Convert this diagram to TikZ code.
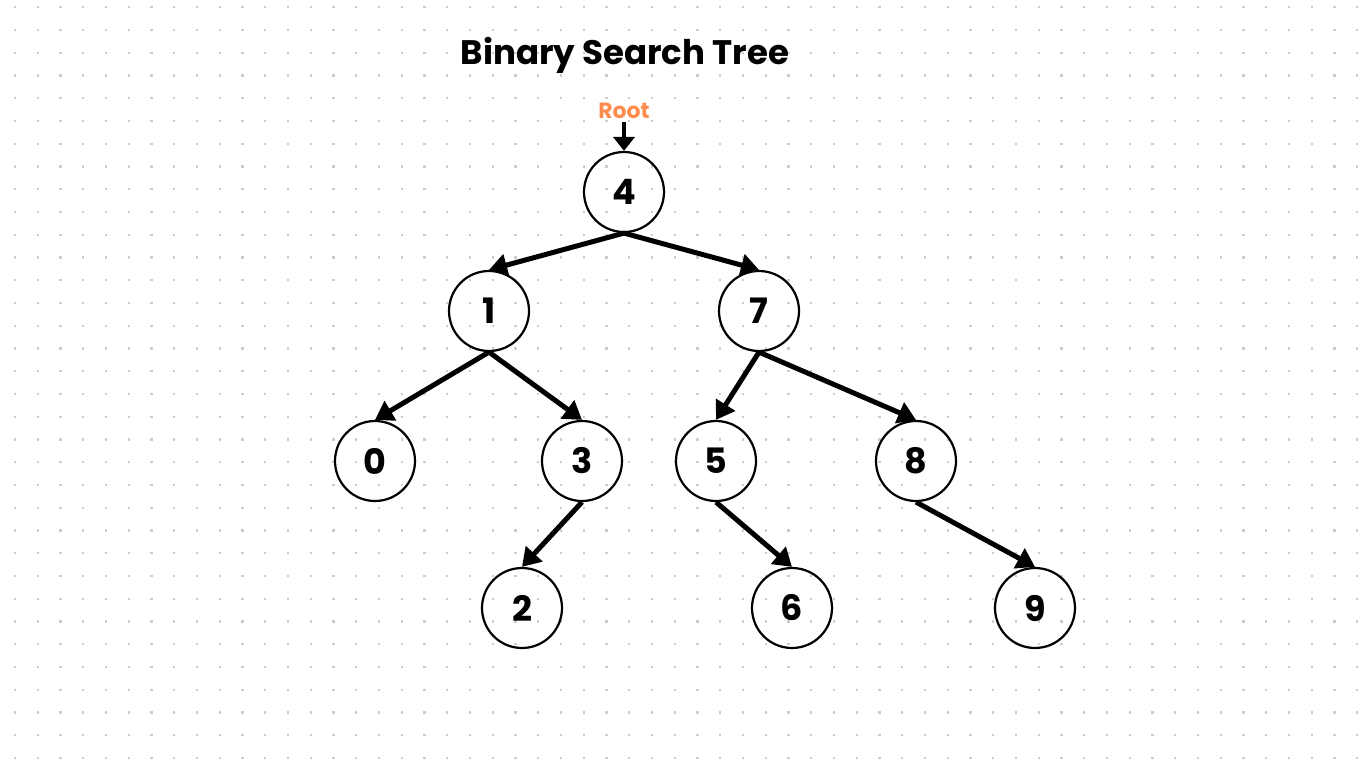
\documentclass[tikz,border=0pt]{standalone}
\usepackage{fontspec}
\setmainfont{Poppins}
\usetikzlibrary{arrows.meta}
\definecolor{dotc}{HTML}{C9CDD9}
\definecolor{rootc}{HTML}{FF8C4F}
\begin{document}
\begin{tikzpicture}[x=1pt,y=-1pt,
  bst/.style={circle,draw,line width=2.2pt,minimum size=80pt,inner sep=0pt,font=\fontsize{35}{38}\selectfont\bfseries},
  edge/.style={line width=5pt,-{Triangle[length=18pt,width=22pt]}},
  dotmark/.style={fill=dotc}]
\useasboundingbox (0,0) rectangle (1366,768);
\fill[white] (0,0) rectangle (1366,768);
\foreach \i in {0,...,59}{\foreach \j in {0,...,33}{\fill[dotmark] (15+22.75*\i-1.1,7.3+22.75*\j-1.1) rectangle ++(2.2,2.2);}}
\node[font=\fontsize{34}{40}\selectfont\bfseries] (title) at (625,55) {Binary Search Tree};
\node[font=\fontsize{22}{24}\selectfont\bfseries,text=rootc] (root) at (624,111) {Root};
\node[bst] (n4) at (624,192) {4};
\node[bst] (n1) at (489,311) {1};
\node[bst] (n7) at (759,311) {7};
\node[bst] (n0) at (375,461) {0};
\node[bst] (n3) at (582,461) {3};
\node[bst] (n5) at (716,461) {5};
\node[bst] (n8) at (916,461) {8};
\node[bst] (n2) at (522,608) {2};
\node[bst] (n6) at (792,608) {6};
\node[bst] (n9) at (1035,608) {9};
\draw[line width=4.5pt,-{Triangle[length=14pt,width=21pt]}] (root.south) -- (n4.north);
\draw[edge] (n4.south) -- (n1.north);
\draw[edge] (n4.south) -- (n7.north);
\draw[edge] (n1.south) -- (n0.north);
\draw[edge] (n1.south) -- (n3.north);
\draw[edge] (n7.south) -- (n5.north);
\draw[edge] (n7.south) -- (n8.north);
\draw[edge] (n3.south) -- (n2.north);
\draw[edge] (n5.south) -- (n6.north);
\draw[edge] (n8.south) -- (n9.north);
\end{tikzpicture}
\end{document}
